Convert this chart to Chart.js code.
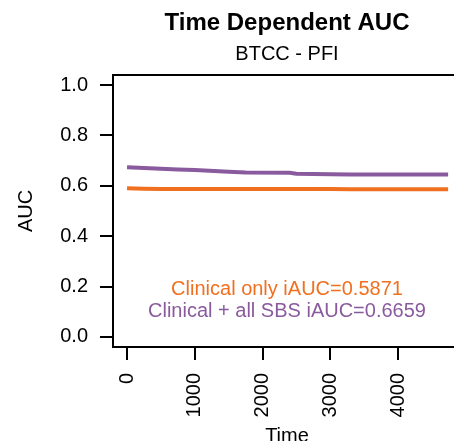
<!DOCTYPE html>
<html>
<head>
<meta charset="utf-8">
<script src="https://cdn.jsdelivr.net/npm/chart.js@4"></script>
<style>
  html, body { margin: 0; padding: 0; background: #fff; overflow: hidden; }
  #auc { display: block; }
</style>
</head>
<body>
<canvas id="auc" width="470" height="450"></canvas>
<script>
const times    = [0, 250, 500, 750, 1000, 1500, 1750, 2400, 2500, 3000, 3300, 4000, 4740];
const clinical = [0.590, 0.588, 0.587, 0.587, 0.587, 0.587, 0.587, 0.587, 0.587, 0.587, 0.586, 0.586, 0.586];
const allSbs   = [0.674, 0.671, 0.668, 0.665, 0.663, 0.656, 0.653, 0.652, 0.648, 0.646, 0.645, 0.645, 0.645];

const xTicks = [0, 1000, 2000, 3000, 4000];
const yTicks = [0, 0.2, 0.4, 0.6, 0.8, 1.0];

const labels = [
  { text: "Clinical only iAUC=0.5871", y: 0.19, color: "#f07020" },
  { text: "Clinical + all SBS iAUC=0.6659", y: 0.1, color: "#8a5a9e" }
];

const FONT = "'Liberation Sans', Arial, Helvetica, sans-serif";
const pts = (ys) => times.map((t, i) => ({ x: t, y: ys[i] }));

// box round the plot area
const frame = {
  id: "frame",
  afterDraw(chart) {
    const { ctx, chartArea: a } = chart;
    ctx.save();
    ctx.strokeStyle = "#000";
    ctx.lineWidth = 2;
    ctx.strokeRect(a.left, a.top, a.right - a.left, a.bottom - a.top);
    ctx.restore();
  }
};

// iAUC notes inside the plot
const notes = {
  id: "notes",
  afterDatasetsDraw(chart) {
    const { ctx, chartArea: a, scales } = chart;
    ctx.save();
    ctx.font = "20px " + FONT;
    ctx.textAlign = "center";
    ctx.textBaseline = "middle";
    labels.forEach((l) => {
      ctx.fillStyle = l.color;
      ctx.fillText(l.text, (a.left + a.right) / 2, scales.y.getPixelForValue(l.y));
    });
    ctx.restore();
  }
};

new Chart(document.getElementById("auc"), {
  type: "line",
  data: {
    datasets: [
      { label: "Clinical + all SBS", data: pts(allSbs), borderColor: "#8a5a9e", borderWidth: 4, pointRadius: 0, tension: 0 },
      { label: "Clinical only", data: pts(clinical), borderColor: "#f07020", borderWidth: 4, pointRadius: 0, tension: 0 }
    ]
  },
  options: {
    responsive: false,
    animation: false,
    layout: { padding: { right: 9 } },
    plugins: {
      legend: { display: false },
      tooltip: { enabled: false },
      title: {
        display: true, fullSize: false, text: "Time Dependent AUC", color: "#000",
        font: { family: FONT, size: 24, weight: "bold" },
        padding: { top: 9, bottom: 0 }
      },
      subtitle: {
        display: true, fullSize: false, text: "BTCC - PFI", color: "#000",
        font: { family: FONT, size: 20 },
        padding: { top: 4.7, bottom: 8.5 }
      }
    },
    scales: {
      x: {
        type: "linear", min: -207, max: 4930,
        afterBuildTicks: (s) => { s.ticks = xTicks.map((v) => ({ value: v })); },
        afterFit: (s) => { s.height = 103; },
        border: { display: false },
        grid: { drawOnChartArea: false, color: "#000", lineWidth: 2, tickLength: 13 },
        ticks: {
          autoSkip: false, minRotation: 90, maxRotation: 90, padding: 13, color: "#000",
          font: { family: FONT, size: 20 },
          callback: (v) => String(v)
        },
        title: {
          display: true, text: "Time", color: "#000",
          font: { family: FONT, size: 20 }, padding: { top: 0, bottom: 2 }
        }
      },
      y: {
        min: -0.04, max: 1.04,
        afterBuildTicks: (s) => { s.ticks = yTicks.map((v) => ({ value: v })); },
        afterFit: (s) => { s.width = 113; },
        border: { display: false },
        grid: { drawOnChartArea: false, color: "#000", lineWidth: 2, tickLength: 13 },
        ticks: {
          padding: 12, color: "#000",
          font: { family: FONT, size: 20 },
          callback: (v) => v.toFixed(1)
        },
        title: {
          display: true, text: "AUC", color: "#000",
          font: { family: FONT, size: 20 }, padding: { top: 14, bottom: 0 }
        }
      }
    }
  },
  plugins: [frame, notes]
});
</script>
</body>
</html>
